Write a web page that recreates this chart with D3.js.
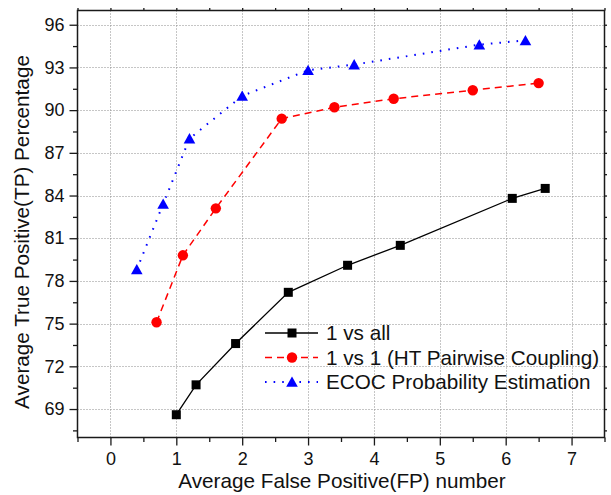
<!DOCTYPE html>
<html>
<head>
<meta charset="utf-8">
<script src="https://cdn.jsdelivr.net/npm/d3@7/dist/d3.min.js"></script>
<style>
  html, body { margin: 0; padding: 0; background: #fff; }
  svg { display: block; font-family: "Liberation Sans", Arial, Helvetica, sans-serif; }
</style>
</head>
<body>
<svg id="chart" width="611" height="495"></svg>
<script>
// ---- data ----
const seriesNames = ["1 vs all", "1 vs 1 (HT Pairwise Coupling)", "ECOC Probability Estimation"];
const fpOneVsAll = [1.0, 1.3, 1.9, 2.7, 3.6, 4.4, 6.1, 6.6];
const tpOneVsAll = [68.6, 70.7, 73.6, 77.2, 79.1, 80.5, 83.8, 84.5];
const fpOneVsOne = [0.7, 1.1, 1.6, 2.6, 3.4, 4.3, 5.5, 6.5];
const tpOneVsOne = [75.1, 79.8, 83.1, 89.4, 90.2, 90.8, 91.4, 91.9];
const fpEcoc = [0.4, 0.8, 1.2, 2.0, 3.0, 3.7, 5.6, 6.3];
const tpEcoc = [78.8, 83.4, 88.0, 91.0, 92.8, 93.2, 94.6, 94.9];
const xMajorTicks = [0, 1, 2, 3, 4, 5, 6, 7];
const xMinorTicks = [-0.5, 0.5, 1.5, 2.5, 3.5, 4.5, 5.5, 6.5, 7.5];
const yMajorTicks = [69, 72, 75, 78, 81, 84, 87, 90, 93, 96];
const yMinorTicks = [67.5, 70.5, 73.5, 76.5, 79.5, 82.5, 85.5, 88.5, 91.5, 94.5];
const xTitle = "Average False Positive(FP) number";
const yTitle = "Average True Positive(TP) Percentage";

// ---- layout ----
const svg = d3.select("#chart");
const L = 77.5, R = 604.5, T = 10.5, B = 437.5;
const x = d3.scaleLinear().domain([-0.5, 7.5]).range([L, R]);
const y = d3.scaleLinear().domain([67, 97]).range([B, T]);

const styles = [
  { color: "#000000", dash: null, width: 1.3, marker: "square" },
  { color: "#ff0000", dash: "7,5", width: 1.5, marker: "circle" },
  { color: "#0000ff", dash: "1.6,7", width: 2, marker: "triangle" }
];
const series = [
  { name: seriesNames[0], pts: fpOneVsAll.map((v, i) => [v, tpOneVsAll[i]]) },
  { name: seriesNames[1], pts: fpOneVsOne.map((v, i) => [v, tpOneVsOne[i]]) },
  { name: seriesNames[2], pts: fpEcoc.map((v, i) => [v, tpEcoc[i]]) }
];

// grid
const grid = svg.append("g").attr("stroke", "#8c8c8c").attr("stroke-width", 1).attr("stroke-dasharray", "1,2");
grid.selectAll("line.v").data(xMajorTicks).join("line")
  .attr("x1", d => Math.round(x(d)) + 0.5).attr("x2", d => Math.round(x(d)) + 0.5)
  .attr("y1", T).attr("y2", B);
grid.selectAll("line.h").data(yMajorTicks).join("line")
  .attr("y1", d => Math.round(y(d)) + 0.5).attr("y2", d => Math.round(y(d)) + 0.5)
  .attr("x1", L).attr("x2", R);

// axes
function styleAxis(g) {
  g.selectAll("path").remove();
  g.selectAll("line").attr("stroke", "#1a1a1a").attr("stroke-width", 1.3);
  g.selectAll("text").attr("fill", "#111").style("font-size", "18px");
}
svg.append("g").attr("transform", `translate(0,${B})`)
  .call(d3.axisBottom(x).tickValues(xMajorTicks).tickSize(8).tickPadding(7).tickFormat(d3.format("d")))
  .call(styleAxis);
svg.append("g").attr("transform", `translate(0,${B})`)
  .call(d3.axisBottom(x).tickValues(xMinorTicks).tickSize(4.5).tickFormat(""))
  .call(styleAxis);
svg.append("g").attr("transform", `translate(${L},0)`)
  .call(d3.axisLeft(y).tickValues(yMajorTicks).tickSize(8).tickPadding(5).tickFormat(d3.format("d")))
  .call(styleAxis);
svg.append("g").attr("transform", `translate(${L},0)`)
  .call(d3.axisLeft(y).tickValues(yMinorTicks).tickSize(4.5).tickFormat(""))
  .call(styleAxis);
svg.append("g").attr("transform", `translate(0,${T})`)
  .call(d3.axisTop(x).tickValues(xMajorTicks.concat(xMinorTicks)).tickSize(2.5).tickFormat(""))
  .call(styleAxis);
svg.append("g").attr("transform", `translate(${R},0)`)
  .call(d3.axisRight(y).tickValues(yMajorTicks.concat(yMinorTicks)).tickSize(2.5).tickFormat(""))
  .call(styleAxis);
svg.selectAll("g text").attr("font-family", null);

// frame
svg.append("rect").attr("x", L).attr("y", T).attr("width", R - L).attr("height", B - T)
  .attr("fill", "none").attr("stroke", "#1a1a1a").attr("stroke-width", 1.5);

// markers
function drawMarker(g, kind, cx, cy, color) {
  if (kind === "square") {
    g.append("rect").attr("x", cx - 4.5).attr("y", cy - 4.5).attr("width", 9).attr("height", 9).attr("fill", color);
  } else if (kind === "circle") {
    g.append("circle").attr("cx", cx).attr("cy", cy).attr("r", 5.2).attr("fill", color);
  } else {
    g.append("path").attr("d", `M${cx},${cy - 5.5}L${cx + 5.8},${cy + 4.8}L${cx - 5.8},${cy + 4.8}Z`).attr("fill", color);
  }
}

const line = d3.line().x(d => x(d[0])).y(d => y(d[1]));
series.forEach((s, i) => {
  const st = styles[i];
  const g = svg.append("g");
  g.append("path").attr("d", line(s.pts)).attr("fill", "none")
    .attr("stroke", st.color).attr("stroke-width", st.width)
    .attr("stroke-dasharray", st.dash);
  s.pts.forEach(p => drawMarker(g, st.marker, x(p[0]), y(p[1]), st.color));
});

// legend
const legY = [333, 357.5, 382];
series.forEach((s, i) => {
  const st = styles[i];
  const g = svg.append("g");
  g.append("line").attr("x1", 265).attr("x2", 318).attr("y1", legY[i]).attr("y2", legY[i])
    .attr("stroke", st.color).attr("stroke-width", st.width).attr("stroke-dasharray", st.dash);
  drawMarker(g, st.marker, 292, legY[i], st.color);
  g.append("text").attr("x", 326).attr("y", legY[i] + 7).text(s.name)
    .style("font-size", "20.7px").attr("fill", "#111");
});

// titles
svg.append("text").attr("x", (L + R) / 2 + 1).attr("y", 488).attr("text-anchor", "middle")
  .style("font-size", "20.7px").attr("fill", "#111").text(xTitle);
svg.append("text").attr("transform", `translate(29,${(T + B) / 2 + 8}) rotate(-90)`)
  .attr("text-anchor", "middle").style("font-size", "20.7px").attr("fill", "#111").text(yTitle);
</script>
</body>
</html>
